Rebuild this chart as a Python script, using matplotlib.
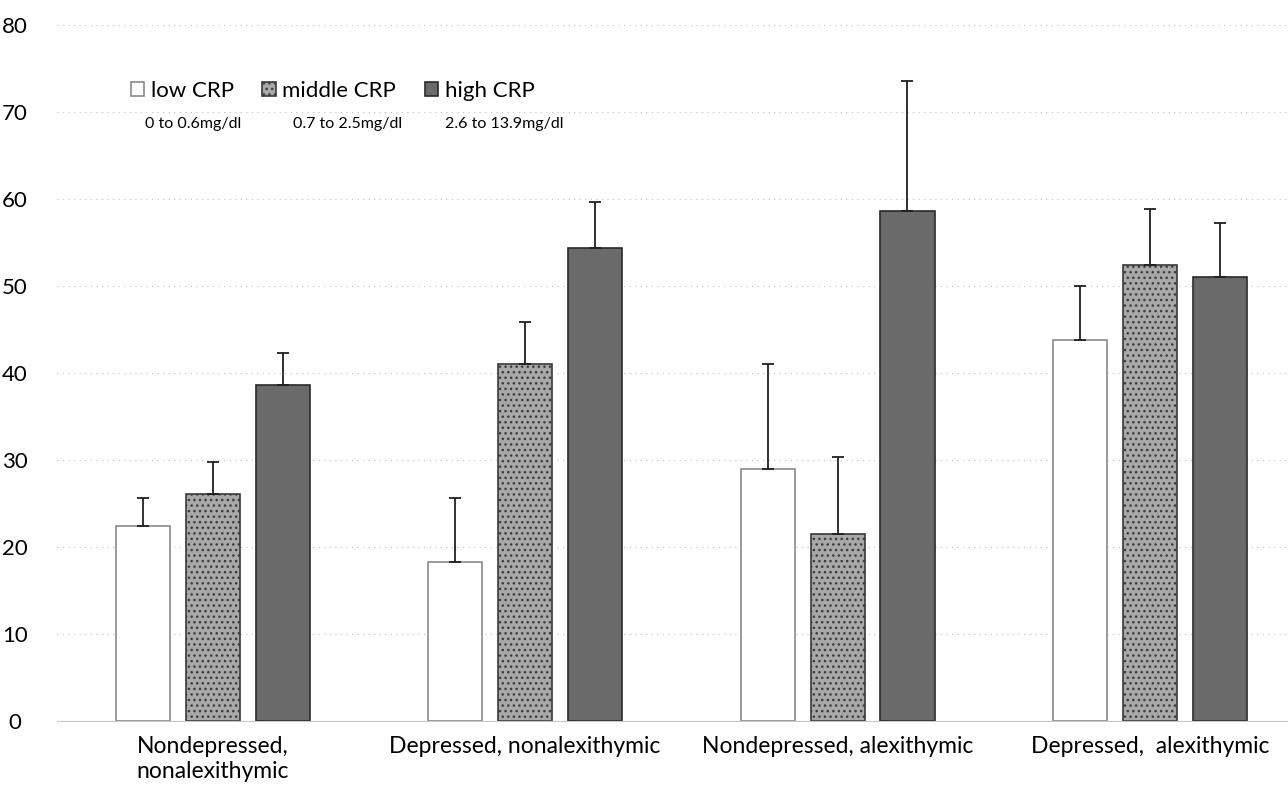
import matplotlib
matplotlib.use('Agg')
import matplotlib.pyplot as plt
import numpy as np

# Data
groups = ['Nondepressed,\nnonalexithymic', 'Depressed, nonalexithymic',
          'Nondepressed, alexithymic', 'Depressed,  alexithymic']
series_names = ['low CRP', 'middle CRP', 'high CRP']
series_ranges = ['0 to 0.6mg/dl', '0.7 to 2.5mg/dl', '2.6 to 13.9mg/dl']
low_crp = [22.4, 18.3, 29.0, 43.8]
middle_crp = [26.1, 41.0, 21.5, 52.4]
high_crp = [38.6, 54.4, 58.6, 51.1]
low_err = [3.2, 7.3, 12.1, 6.2]
middle_err = [3.7, 4.9, 8.8, 6.5]
high_err = [3.7, 5.3, 15.0, 6.1]
yticks = [0, 10, 20, 30, 40, 50, 60, 70, 80]

plt.rcParams['font.family'] = ['Lato', 'DejaVu Sans']

fig = plt.figure(figsize=(12.88, 7.97), dpi=100)
ax = fig.add_axes([0.044, 0.0954, 0.97, 0.873])

x = np.arange(len(groups))
width = 0.173
step = 0.224

styles = [
    dict(facecolor='white', edgecolor='#8a8a8a', hatch=None),
    dict(facecolor='#a8a8a8', edgecolor='#3a3a3a', hatch='...'),
    dict(facecolor='#6a6a6a', edgecolor='#2a2a2a', hatch=None),
]
values = [low_crp, middle_crp, high_crp]
errors = [low_err, middle_err, high_err]

handles = []
for i, (vals, errs, st) in enumerate(zip(values, errors, styles)):
    pos = x + (i - 1) * step
    b = ax.bar(pos, vals, width, facecolor=st['facecolor'], edgecolor=st['edgecolor'],
               hatch=st['hatch'], linewidth=1.2, label=series_names[i], zorder=2)
    # only the upper half of the error bar is shown
    ax.errorbar(pos, vals, yerr=[np.zeros(len(vals)), errs], fmt='none',
                ecolor='#202020', elinewidth=1.3, capsize=4, capthick=1.3, zorder=3)
    handles.append(b)

ax.set_xlim(-0.5, 3.5)
ax.set_ylim(0, 80)
ax.set_yticks(yticks)
ax.set_xticks(x)
ax.set_xticklabels(groups, fontsize=16.5, multialignment='left')
ax.tick_params(axis='y', labelsize=16, length=0, pad=30)
ax.tick_params(axis='x', length=0, pad=11)
for lab in ax.get_yticklabels():
    lab.set_horizontalalignment('center')

ax.grid(axis='y', color='#bdbdbd', linestyle=(0, (1, 4)), linewidth=0.8, zorder=0)
for side in ['top', 'right', 'left']:
    ax.spines[side].set_visible(False)
ax.spines['bottom'].set_color('#c8c8c8')

leg = ax.legend(handles=handles, ncol=3, loc='upper left', bbox_to_anchor=(0.052, 0.933),
                frameon=False, fontsize=16, handlelength=0.6, handleheight=0.6,
                handletextpad=0.3, columnspacing=1.3, borderaxespad=0)

range_x = [0.1126, 0.2275, 0.3455]
for rx, txt in zip(range_x, series_ranges):
    fig.text(rx, 0.844, txt, fontsize=11.5, ha='left', va='center')

fig.savefig('out.png', dpi=100)
